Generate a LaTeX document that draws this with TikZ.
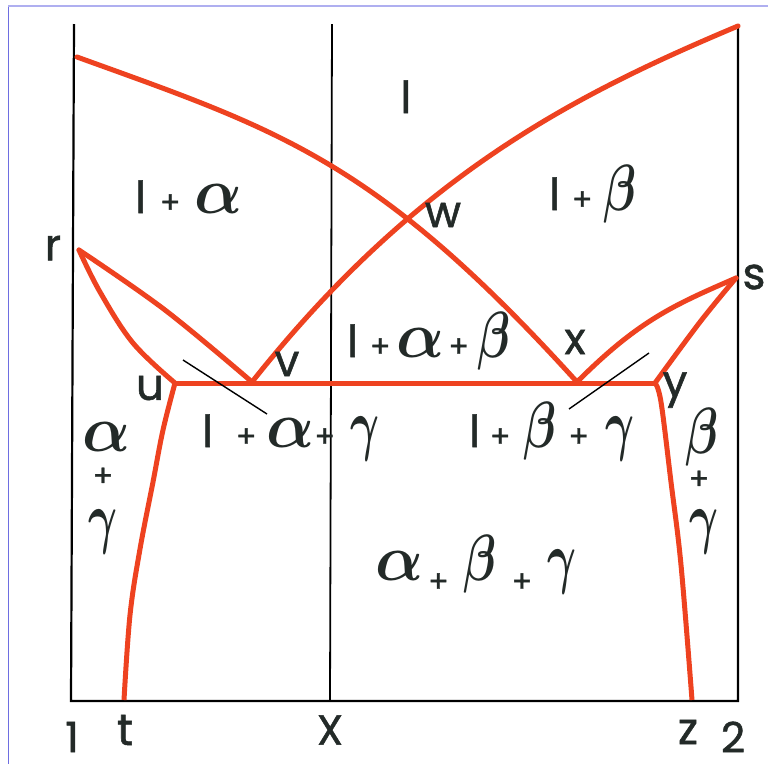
\documentclass[tikz,border=0pt]{standalone}
\usepackage{graphicx}
\usepackage{fontspec}
\newfontfamily\labfont[FakeBold=1.2]{Poppins}
\definecolor{lred}{RGB}{238,66,32}
\definecolor{ink}{RGB}{35,42,40}
\definecolor{frameL}{RGB}{110,110,225}
\definecolor{frameT}{RGB}{175,175,240}
\tikzset{
 phase/.style={draw=lred,line width=5pt,line cap=round,line join=round},
 phaseend/.style={draw=lred,line width=5pt,line cap=butt,line join=round},
 axisline/.style={draw=black,line width=2.2pt},
 tieline/.style={draw=black,line width=1.4pt},
 lab/.style={text=ink,inner sep=0pt,font=\fontsize{44}{46}\selectfont\labfont},
 biglab/.style={text=ink,inner sep=0pt,font=\fontsize{42}{44}\selectfont\labfont},
}
\newcommand\Pl{{\fontsize{30}{32}\selectfont +}}
\newcommand\Ga{{\normalsize\resizebox*{48pt}{29pt}{\boldmath$\alpha$}}}
\newcommand\Gb{{\normalsize\resizebox*{33pt}{58pt}{\boldmath$\beta$}}}
\newcommand\Gc{{\normalsize\resizebox*{29pt}{44pt}{\boldmath$\gamma$}}}
\begin{document}
\begin{tikzpicture}[x=1pt,y=-1pt]
\useasboundingbox (0,0) rectangle (768,764);
\fill[white] (0,0) rectangle (768,764);
\draw[frameL,line width=1.8pt] (8.5,5) -- (8.5,764);
\draw[frameT,line width=2pt] (8,5.5) -- (768,5.5);
% axes
\coordinate (TL) at (74,24);
\coordinate (BL) at (71,701);
\coordinate (BR) at (738,701);
\coordinate (TR) at (738,26);
\coordinate (XT) at (332,24);
\coordinate (XB) at (330,701);
\draw[axisline] (TL) -- (BL) -- (BR) -- (TR);
\draw[axisline,line width=1.8pt] (XT) -- (XB);
% phase points
\coordinate (A) at (77,57);
\coordinate (r) at (79,250);
\coordinate (s) at (736,278);
\coordinate (u) at (175,383);
\coordinate (v) at (252,382);
\coordinate (x) at (577,382);
\coordinate (y) at (655,383);
\coordinate (t) at (124,700);
\coordinate (z) at (692,700);
% liquidus curves (cross at w)
\draw[phase] (A) .. controls (279,130) and (375,159) .. (x);
\draw[phase] (TR) .. controls (574,95) and (416,175) .. (v);
% alpha side
\draw[phase] plot[smooth,tension=0.6] coordinates {(r) (165,310) (v)};
\draw[phase] plot[smooth,tension=0.6] coordinates {(r) (100,292) (133,343) (u)};
% beta side
\draw[phase] (x) .. controls (639,320) and (674,305) .. (s);
\draw[phase] plot[smooth,tension=0.6] coordinates {(s) (700,322) (y)};
% eutectic plane
\draw[phase] (u) -- (y);
% solvus
\draw[phaseend] plot[smooth,tension=0.6] coordinates {(u) (163,430) (153,482) (140,549) (130,615) (t)};
\draw[phaseend] plot[smooth,tension=0.6] coordinates {(y) (661,402) (671,482) (681,565) (z)};
% tie lines
\coordinate (ta1) at (183,360);
\coordinate (ta2) at (267,414);
\coordinate (tb1) at (649,353);
\coordinate (tb2) at (569,409);
\draw[tieline] (ta1) -- (ta2);
\draw[tieline] (tb1) -- (tb2);
% region labels
\node[lab,anchor=base] (Ll) at (406,113) {l};
\node[lab,anchor=base west] (Lla) at (135,213) {l\hspace{14pt}\Pl\hspace{14pt}\Ga};
\node[lab,anchor=base west] (Llb) at (549,210) {l\hspace{12pt}\Pl\hspace{11pt}\Gb};
\node[lab,anchor=base west] (Llab) at (347,357) {l\hspace{12pt}\Pl\hspace{6pt}\Ga\hspace{4pt}\Pl\hspace{8pt}\Gb};
\node[lab,anchor=base west] (Llag) at (202,447) {l\hspace{23pt}\Pl\hspace{10pt}\Ga\hspace{0pt}\Pl\hspace{15pt}\Gc};
\node[lab,anchor=base west] (Llbg) at (469,447) {l\hspace{10pt}\Pl\hspace{13pt}\Gb\hspace{12pt}\Pl\hspace{16pt}\Gc};
\node[lab,anchor=base west] (Labg) at (375,580) {\Ga\hspace{5pt}\raisebox{-12pt}{\Pl}\hspace{15pt}\Gb\hspace{15pt}\raisebox{-12pt}{\Pl}\hspace{15pt}\Gc};
\node[lab] (Lag1) at (107,437) {\Ga};
\node[lab] (Lag2) at (103,477) {\Pl};
\node[lab] (Lag3) at (103,532) {\Gc};
\node[lab] (Lbg1) at (702,437) {\Gb};
\node[lab] (Lbg2) at (699,480) {\Pl};
\node[lab] (Lbg3) at (704,532) {\Gc};
% point labels
\node[lab] (Lr) at (53,248) {r};
\node[lab] (Ls) at (754,277) {s};
\node[lab] (Lw) at (443,215) {w};
\node[lab] (Lv) at (287,364) {v};
\node[lab] (Lx) at (575,342) {x};
\node[lab] (Lu) at (150,388) {u};
\node[lab] (Ly) at (675,390) {y};
\node[lab] (Lt) at (125,730) {t};
\node[lab] (Lz) at (688,732) {z};
\node[biglab] (LX) at (330,730) {X};
\node[biglab] (L1) at (72,737) {1};
\node[biglab] (L2) at (733,737) {2};
\end{tikzpicture}
\end{document}
